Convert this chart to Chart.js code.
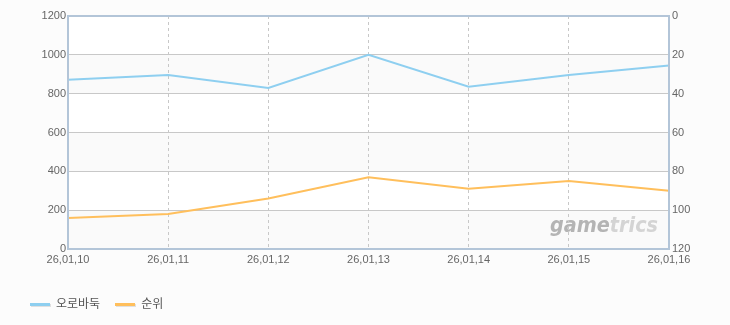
<!DOCTYPE html>
<html>
<head>
<meta charset="utf-8">
<script src="https://cdn.jsdelivr.net/npm/chart.js@4/dist/chart.umd.min.js"></script>
<style>
  body { margin: 0; background: #fcfcfc; }
  #wrap { position: relative; width: 730px; height: 325px; }
  #legend { position: absolute; left: 30px; top: 294px; font: 12px 'Noto Sans CJK KR', sans-serif; color: #555; }
  #legend span.item { display: inline-block; margin-right: 15px; }
  #legend i { display: inline-block; width: 20px; height: 3px; vertical-align: middle; margin-right: 6px; box-shadow: 1px 1px 0 #e0e0e0; }
</style>
</head>
<body>
<div id="wrap">
  <canvas id="c" width="730" height="325"></canvas>
  <div id="legend"></div>
</div>
<script>
const labels = ['26,01,10', '26,01,11', '26,01,12', '26,01,13', '26,01,14', '26,01,15', '26,01,16'];
const seriesNames = ['오로바둑', '순위'];
const visitors = [872, 896, 829, 1000, 836, 896, 945];
const ranks = [104, 102, 94, 83, 89, 85, 90];
const colors = ['#8ecff0', '#ffbf5c'];

// alternate bands, frame and watermark
const backdrop = {
    id: 'backdrop',
    beforeDraw(chart) {
        const { ctx, chartArea: a, scales: { y } } = chart;
        ctx.save();
        for (let v = 0; v < 1200; v += 200) {
            ctx.fillStyle = (v / 200) % 2 === 0 ? '#fafafa' : '#ffffff';
            const top = y.getPixelForValue(v + 200);
            const bottom = y.getPixelForValue(v);
            ctx.fillRect(a.left, top, a.right - a.left, bottom - top);
        }
        ctx.font = 'italic bold 22px "DejaVu Sans", sans-serif';
        ctx.textBaseline = 'alphabetic';
        const full = ctx.measureText('gametrics').width;
        ctx.translate(550, 232);
        ctx.scale(108 / full, 1);
        ctx.fillStyle = '#b4b4b4';
        ctx.fillText('game', 0, 0);
        const w = ctx.measureText('game').width;
        ctx.fillStyle = '#d4d4d4';
        ctx.fillText('trics', w, 0);
        ctx.restore();
    },
    afterDraw(chart) {
        const { ctx, chartArea: a } = chart;
        ctx.save();
        ctx.strokeStyle = '#b3c5d8';
        ctx.lineWidth = 2;
        ctx.strokeRect(a.left, a.top, a.right - a.left, a.bottom - a.top);
        ctx.restore();
    }
};

const tickFont = { family: '"Liberation Sans", Arial, sans-serif', size: 11 };
const plain = (v) => String(v);

new Chart(document.getElementById('c'), {
    type: 'line',
    data: {
        labels: labels,
        datasets: [
            {
                label: seriesNames[0],
                data: visitors,
                borderColor: colors[0],
                borderWidth: 2,
                pointRadius: 0,
                tension: 0,
                yAxisID: 'y'
            },
            {
                label: seriesNames[1],
                data: ranks,
                borderColor: colors[1],
                borderWidth: 2,
                pointRadius: 0,
                tension: 0,
                yAxisID: 'y2'
            }
        ]
    },
    options: {
        responsive: false,
        animation: false,
        layout: { padding: { top: 16 } },
        plugins: {
            legend: { display: false },
            tooltip: { enabled: false }
        },
        scales: {
            x: {
                offset: false,
                grid: { color: '#c8c8c8', drawTicks: false },
                border: { display: false, dash: [3, 3] },
                ticks: { color: '#666', font: tickFont, padding: 4, maxRotation: 0 },
                afterFit: (s) => { s.height = 76; }
            },
            y: {
                position: 'left',
                min: 0,
                max: 1200,
                grid: { color: '#c8c8c8', drawTicks: false },
                border: { display: false },
                ticks: { stepSize: 200, color: '#666', font: tickFont, padding: 2, callback: plain },
                afterFit: (s) => { s.width = 68; }
            },
            y2: {
                position: 'right',
                reverse: true,
                min: 0,
                max: 120,
                grid: { display: false, drawTicks: false },
                border: { display: false },
                ticks: { stepSize: 20, color: '#666', font: tickFont, padding: 3, callback: plain },
                afterFit: (s) => { s.width = 61; }
            }
        }
    },
    plugins: [backdrop]
});

document.getElementById('legend').innerHTML = seriesNames
    .map((n, i) => `<span class="item"><i style="background:${colors[i]}"></i>${n}</span>`)
    .join('');
</script>
</body>
</html>
